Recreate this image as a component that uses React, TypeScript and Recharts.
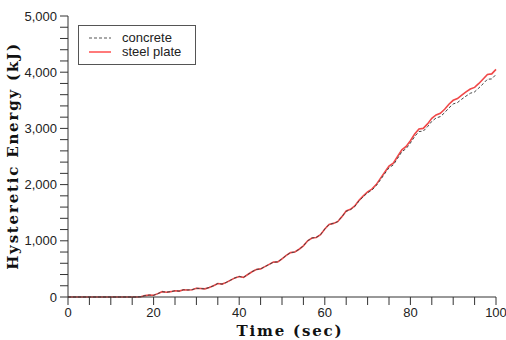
import React from 'react';
import { LineChart, Line, XAxis, YAxis, Label } from 'recharts';

const time = [
  0, 1, 2, 3, 4, 5, 6, 7, 8, 9, 10, 11, 12, 13, 14, 15, 16, 17, 18, 19, 20,
  21, 22, 23, 24, 25, 26, 27, 28, 29, 30, 31, 32, 33, 34, 35, 36, 37, 38, 39, 40,
  41, 42, 43, 44, 45, 46, 47, 48, 49, 50, 51, 52, 53, 54, 55, 56, 57, 58, 59, 60,
  61, 62, 63, 64, 65, 66, 67, 68, 69, 70, 71, 72, 73, 74, 75, 76, 77, 78, 79, 80,
  81, 82, 83, 84, 85, 86, 87, 88, 89, 90, 91, 92, 93, 94, 95, 96, 97, 98, 99, 100,
];

const steelPlate = [
  0, 0, 0, 0, 0, 0, 0, 0, 0, 0, 0, 0, 0, 0, 0, 0, 0, 5, 25, 35, 30,
  60, 95, 85, 95, 110, 105, 130, 125, 130, 155, 150, 145, 170, 200, 240, 230, 260, 300, 340, 365,
  350, 400, 450, 490, 500, 540, 580, 620, 625, 680, 740, 790, 800, 850, 910, 1000, 1050, 1060, 1110, 1210,
  1290, 1310, 1340, 1430, 1530, 1560, 1620, 1720, 1800, 1870, 1920, 2000, 2110, 2220, 2330, 2380, 2500, 2620, 2680, 2780,
  2900, 2990, 3000, 3080, 3180, 3240, 3270, 3340, 3430, 3500, 3530, 3590, 3650, 3700, 3730, 3800, 3880, 3960, 3970, 4050,
];

const concrete = [
  0, 0, 0, 0, 0, 0, 0, 0, 0, 0, 0, 0, 0, 0, 0, 0, 0, 5, 25, 35, 30,
  60, 95, 85, 95, 110, 105, 130, 125, 130, 155, 150, 145, 170, 200, 240, 230, 260, 300, 340, 365,
  350, 400, 450, 490, 500, 540, 580, 620, 625, 680, 740, 790, 800, 850, 910, 1000, 1050, 1060, 1110, 1210,
  1290, 1310, 1340, 1430, 1525, 1555, 1610, 1710, 1785, 1855, 1900, 1980, 2085, 2195, 2300, 2350, 2465, 2585, 2640, 2740,
  2855, 2945, 2950, 3030, 3125, 3185, 3210, 3280, 3365, 3435, 3460, 3520, 3575, 3625, 3650, 3720, 3795, 3875, 3880, 3960,
];

const xTicks = [0, 5, 10, 15, 20, 25, 30, 35, 40, 45, 50, 55, 60, 65, 70, 75, 80, 85, 90, 95, 100];
const yTicks = [
  0, 200, 400, 600, 800, 1000, 1200, 1400, 1600, 1800, 2000, 2200, 2400, 2600, 2800,
  3000, 3200, 3400, 3600, 3800, 4000, 4200, 4400, 4600, 4800, 5000,
];

const data = time.map((t, i) => ({ t, concrete: concrete[i], steel: steelPlate[i] }));

const tickFont = { fontFamily: 'Liberation Sans, Arial, sans-serif', fontSize: 13, fill: '#222' };
const titleFont = { fontFamily: 'DejaVu Serif, serif', fontWeight: 'bold', fontSize: 15, letterSpacing: 1.8, fill: '#111' };

// legend drawn as an overlay so it does not take space from the plot
const LegendBox = () => (
  <div
    style={{
      position: 'absolute',
      left: 78,
      top: 25,
      border: '1px solid #555',
      background: '#fff',
      width: 118,
      height: 40,
      boxSizing: 'border-box',
      padding: '5px 0 0 10px',
      fontFamily: 'Liberation Sans, Arial, sans-serif',
      fontSize: 13,
      color: '#222',
      lineHeight: '14px',
    }}
  >
    <div style={{ display: 'flex', alignItems: 'center' }}>
      <svg width={22} height={6} style={{ marginRight: 11 }}>
        <line x1={0} y1={3} x2={22} y2={3} stroke="#555" strokeWidth={1.2} strokeDasharray="3 2" />
      </svg>
      concrete
    </div>
    <div style={{ display: 'flex', alignItems: 'center' }}>
      <svg width={22} height={6} style={{ marginRight: 11 }}>
        <line x1={0} y1={3} x2={22} y2={3} stroke="#ff7a7a" strokeWidth={2} />
      </svg>
      steel plate
    </div>
  </div>
);

export default function App() {
  return (
    <div style={{ position: 'absolute', left: 0, top: 0, width: 506, height: 340, background: '#fff' }}>
      <LineChart width={506} height={340} data={data} margin={{ top: 16, right: 10, left: 0, bottom: 1 }}>
        <XAxis
          dataKey="t"
          type="number"
          domain={[0, 100]}
          ticks={xTicks}
          tickSize={8}
          tickMargin={3}
          height={42}
          stroke="#333"
          tick={tickFont}
          tickFormatter={(v: number) => (v % 20 === 0 ? String(v) : '')}
          interval={0}
        >
          <Label
            content={() => (
              <text x={290} y={336} textAnchor="middle" style={titleFont as any}>
                Time (sec)
              </text>
            )}
          />
        </XAxis>
        <YAxis
          type="number"
          domain={[0, 5000]}
          ticks={yTicks}
          tickSize={8}
          tickMargin={3}
          width={68}
          stroke="#333"
          tick={tickFont}
          interval={0}
          tickFormatter={(v: number) => (v % 1000 === 0 ? v.toLocaleString('en-US') : '')}
        >
          <Label
            content={() => (
              <text
                x={0}
                y={0}
                transform="translate(18,156) rotate(-90)"
                textAnchor="middle"
                style={titleFont as any}
              >
                Hysteretic Energy (kJ)
              </text>
            )}
          />
        </YAxis>
        <Line
          dataKey="steel"
          stroke="#f04848"
          strokeWidth={1.6}
          dot={false}
          isAnimationActive={false}
        />
        <Line
          dataKey="concrete"
          stroke="#444"
          strokeWidth={1}
          strokeDasharray="3 2"
          dot={false}
          isAnimationActive={false}
        />
      </LineChart>
      <LegendBox />
    </div>
  );
}
